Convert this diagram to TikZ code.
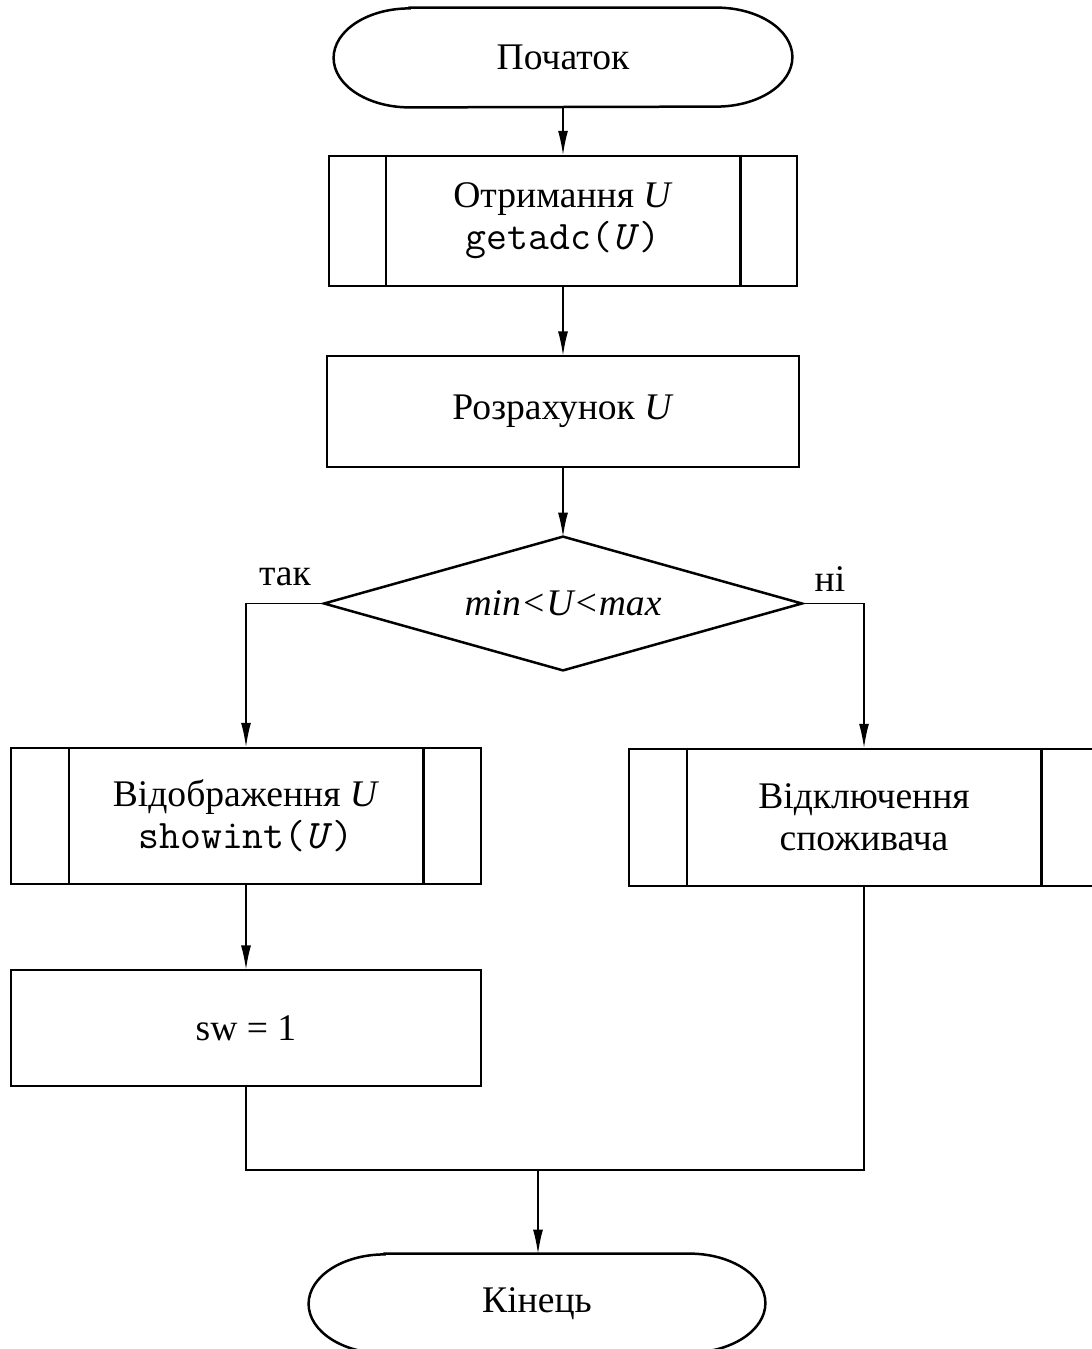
\documentclass[tikz,border=0pt]{standalone}
\usepackage{fontspec}
\setmainfont{Liberation Serif}
\usetikzlibrary{arrows.meta}

% call names in a typewriter face
\newcommand{\callname}[1]{{\fontsize{20.3}{21}\selectfont\ttfamily #1}}

\begin{document}
\begin{tikzpicture}[x=0.5pt,y=-0.5pt,
  thickline/.style={line width=1.25pt},
  thinline/.style={line width=0.6pt},
  flow/.style={line width=0.6pt,-{Latex[length=12pt,width=5pt]}},
  txt/.style={font=\fontsize{18.8}{21}\selectfont,align=center,inner sep=0pt},
  term/.style={txt,minimum width=229pt,minimum height=49.5pt},
  subproc/.style={txt,draw,thickline,minimum width=235pt,minimum height=67pt},
  proc/.style={txt,draw,thinline,minimum width=236pt},
  decide/.style={txt,minimum width=238.5pt,minimum height=66.5pt}]

\useasboundingbox (0,0) rectangle (1092,1349);
\clip (0,0) rectangle (1092,1349);

% start terminal
\node[term] (start) at (563,57.5) {Початок};
\draw[thickline] ([xshift=38pt]start.north west) -- ([xshift=-38pt]start.north east)
  arc[start angle=90,end angle=-90,x radius=38pt,y radius=24.75pt]
  -- ([xshift=38pt]start.south west)
  arc[start angle=270,end angle=90,x radius=38pt,y radius=24.75pt] -- cycle;

% read the voltage
\node[subproc,minimum width=234pt,minimum height=65pt] (getu) at (563,221)
  {Отримання \textit{U}\\\callname{getadc(\textit{U})}};
\draw[thickline] ([xshift=29pt]getu.north west) -- ([xshift=29pt]getu.south west);
\draw[thickline] ([xshift=-29pt]getu.north east) -- ([xshift=-29pt]getu.south east);

% compute
\node[proc,minimum height=55.5pt] (calcu) at (563,411.5) {Розрахунок \textit{U}};

% range check
\node[decide] (dia) at (563,603.5) {\textit{min<U<max}};
\draw[thickline] (dia.north) -- (dia.east) -- (dia.south) -- (dia.west) -- cycle;
\node[txt] (yes) at (285,577) {так};
\node[txt] (no) at (830,579) {ні};

% display branch
\node[subproc,minimum height=68pt] (show) at (246,816)
  {Відображення \textit{U}\\\callname{showint(\textit{U})}};
\draw[thickline] ([xshift=29.5pt]show.north west) -- ([xshift=29.5pt]show.south west);
\draw[thickline] ([xshift=-29.5pt]show.north east) -- ([xshift=-29.5pt]show.south east);

\node[proc,minimum width=235pt,minimum height=58pt] (sw) at (246,1028) {sw = 1};

% disconnect branch
\node[subproc,minimum height=68.5pt] (off) at (864,817.5)
  {Відключення\\споживача};
\draw[thickline] ([xshift=29.5pt]off.north west) -- ([xshift=29.5pt]off.south west);
\draw[thickline] ([xshift=-29.5pt]off.north east) -- ([xshift=-29.5pt]off.south east);

% end terminal
\node[term,minimum width=228pt] (stop) at (537,1303.5) {Кінець};
\draw[thickline] ([xshift=38pt]stop.north west) -- ([xshift=-38pt]stop.north east)
  arc[start angle=90,end angle=-90,x radius=38pt,y radius=24.75pt]
  -- ([xshift=38pt]stop.south west)
  arc[start angle=270,end angle=90,x radius=38pt,y radius=24.75pt] -- cycle;

\coordinate (join) at (538,1170);

% connectors
\draw[flow] (start) -- (getu);
\draw[flow] (getu) -- (calcu);
\draw[flow] (calcu) -- (dia.north);
\draw[flow] (dia.west) -| (show.north);
\draw[flow] (dia.east) -| (off.north);
\draw[flow] (show) -- (sw);
\draw[thinline] (sw.south) |- (join);
\draw[thinline] (off.south) |- (join);
\draw[flow] (join) -- (stop.north -| join);
\end{tikzpicture}
\end{document}
